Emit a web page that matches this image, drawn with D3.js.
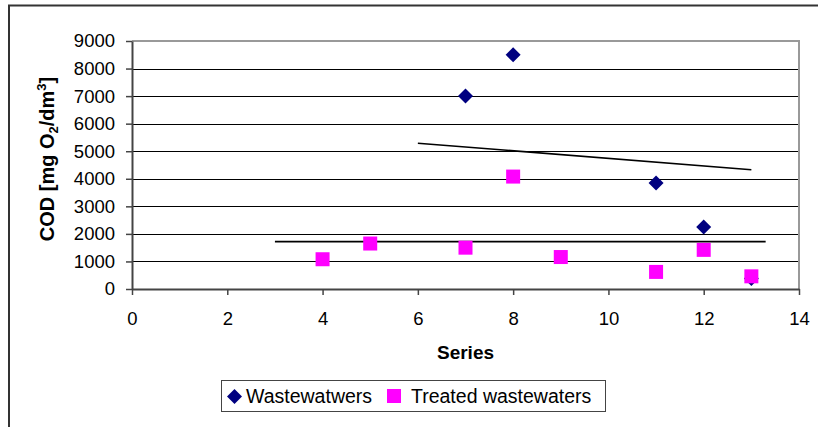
<!DOCTYPE html>
<html>
<head>
<meta charset="utf-8">
<script src="https://cdn.jsdelivr.net/npm/d3@7"></script>
<style>
  html, body { margin: 0; padding: 0; background: #fff; }
  svg { display: block; font-family: "Liberation Sans", Arial, sans-serif; }
</style>
</head>
<body>
<div id="chart"></div>
<script>
// Wastewaters (diamonds)
const wasteX = [7, 8, 11, 12, 13];
const wasteY = [7000, 8500, 3850, 2250, 380];

// Treated wastewaters (squares)
const treatedX = [4, 5, 7, 8, 9, 11, 12, 13];
const treatedY = [1080, 1650, 1500, 4080, 1160, 620, 1420, 460];

// trend lines as drawn in the original
const trendWaste = [[6, 5290], [13, 4330]];
const trendTreated = [[3, 1720], [13.3, 1720]];

const xTicks = [0, 2, 4, 6, 8, 10, 12, 14];
const yTicks = [0, 1000, 2000, 3000, 4000, 5000, 6000, 7000, 8000, 9000];

const seriesNames = ["Wastewatwers", "Treated wastewaters"];

const width = 818, height = 427;
const plot = {left: 132, right: 799, top: 41, bottom: 289};

const svg = d3.select("#chart").append("svg")
  .attr("width", width)
  .attr("height", height);

// outer chart frame (cut off on right / bottom)
svg.append("path")
  .attr("d", `M9,${height + 2} L9,5.5 L${width + 2},5.5`)
  .attr("fill", "none")
  .attr("stroke", "#333")
  .attr("stroke-width", 2);

const x = d3.scaleLinear().domain([0, 14]).range([plot.left, plot.right]);
const y = d3.scaleLinear().domain([0, 9000]).range([plot.bottom, plot.top]);

// gridlines
svg.append("g")
  .selectAll("line")
  .data(yTicks.filter(d => d > 0 && d < 9000))
  .join("line")
  .attr("x1", plot.left)
  .attr("x2", plot.right)
  .attr("y1", d => Math.round(y(d)) + 0.5)
  .attr("y2", d => Math.round(y(d)) + 0.5)
  .attr("stroke", "#000")
  .attr("stroke-width", 1);

// plot area border top + right (grey)
svg.append("path")
  .attr("d", `M${plot.left},${plot.top} L${plot.right},${plot.top} L${plot.right},${plot.bottom}`)
  .attr("fill", "none")
  .attr("stroke", "#999")
  .attr("stroke-width", 2);

// axes
const xAxis = svg.append("g")
  .attr("transform", `translate(0,${plot.bottom})`)
  .call(d3.axisBottom(x).tickValues(xTicks).tickFormat(d3.format("d"))
    .tickSize(6).tickPadding(17).tickSizeOuter(0));

const yAxis = svg.append("g")
  .attr("transform", `translate(${plot.left},0)`)
  .call(d3.axisLeft(y).tickValues(yTicks).tickFormat(d3.format("d"))
    .tickSize(6).tickPadding(11).tickSizeOuter(0));

[xAxis, yAxis].forEach(ax => {
  ax.select(".domain").attr("stroke", "#444").attr("stroke-width", 2);
  ax.selectAll(".tick line").attr("stroke", "#444").attr("stroke-width", 1.5);
  ax.selectAll(".tick text")
    .attr("fill", "#000")
    .style("font-family", "'Liberation Sans', Arial, sans-serif")
    .style("font-size", "18.5px");
});

// trend lines
const line = d3.line().x(d => x(d[0])).y(d => y(d[1]));
svg.append("g")
  .selectAll("path")
  .data([trendWaste, trendTreated])
  .join("path")
  .attr("d", line)
  .attr("fill", "none")
  .attr("stroke", "#000")
  .attr("stroke-width", 1.6);

// diamonds
const diamond = "M0,-7.5 L7.5,0 L0,7.5 L-7.5,0 Z";
svg.append("g")
  .selectAll("path")
  .data(wasteX.map((d, i) => [d, wasteY[i]]))
  .join("path")
  .attr("d", diamond)
  .attr("transform", d => `translate(${x(d[0])},${y(d[1])})`)
  .attr("fill", "#000080");

// squares
const sq = 14;
svg.append("g")
  .selectAll("rect")
  .data(treatedX.map((d, i) => [d, treatedY[i]]))
  .join("rect")
  .attr("x", d => x(d[0]) - sq / 2)
  .attr("y", d => y(d[1]) - sq / 2)
  .attr("width", sq)
  .attr("height", sq)
  .attr("fill", "#ff00ff");

// axis titles
svg.append("text")
  .attr("x", (plot.left + plot.right) / 2)
  .attr("y", 359)
  .attr("text-anchor", "middle")
  .style("font-size", "19px")
  .style("font-weight", "bold")
  .text("Series");

const yt = svg.append("text")
  .attr("transform", "translate(54,159) rotate(-90)")
  .attr("text-anchor", "middle")
  .style("font-size", "20px")
  .style("font-weight", "bold");
yt.append("tspan").text("COD [mg O");
yt.append("tspan").attr("dy", 4).style("font-size", "13px").text("2");
yt.append("tspan").attr("dy", -4).text("/dm");
yt.append("tspan").attr("dy", -8).style("font-size", "13px").text("3");
yt.append("tspan").attr("dy", 8).text("]");

// legend
const lg = svg.append("g");
lg.append("rect")
  .attr("x", 221.5).attr("y", 380.5)
  .attr("width", 384).attr("height", 31)
  .attr("fill", "#fff")
  .attr("stroke", "#444")
  .attr("stroke-width", 1);
lg.append("path")
  .attr("d", diamond)
  .attr("transform", "translate(234.5,396.5)")
  .attr("fill", "#000080");
lg.append("text")
  .attr("x", 246).attr("y", 403)
  .style("font-size", "19.5px")
  .text(seriesNames[0]);
lg.append("rect")
  .attr("x", 387).attr("y", 389)
  .attr("width", sq).attr("height", sq)
  .attr("fill", "#ff00ff");
lg.append("text")
  .attr("x", 411).attr("y", 403)
  .style("font-size", "19.5px")
  .text(seriesNames[1]);
</script>
</body>
</html>
